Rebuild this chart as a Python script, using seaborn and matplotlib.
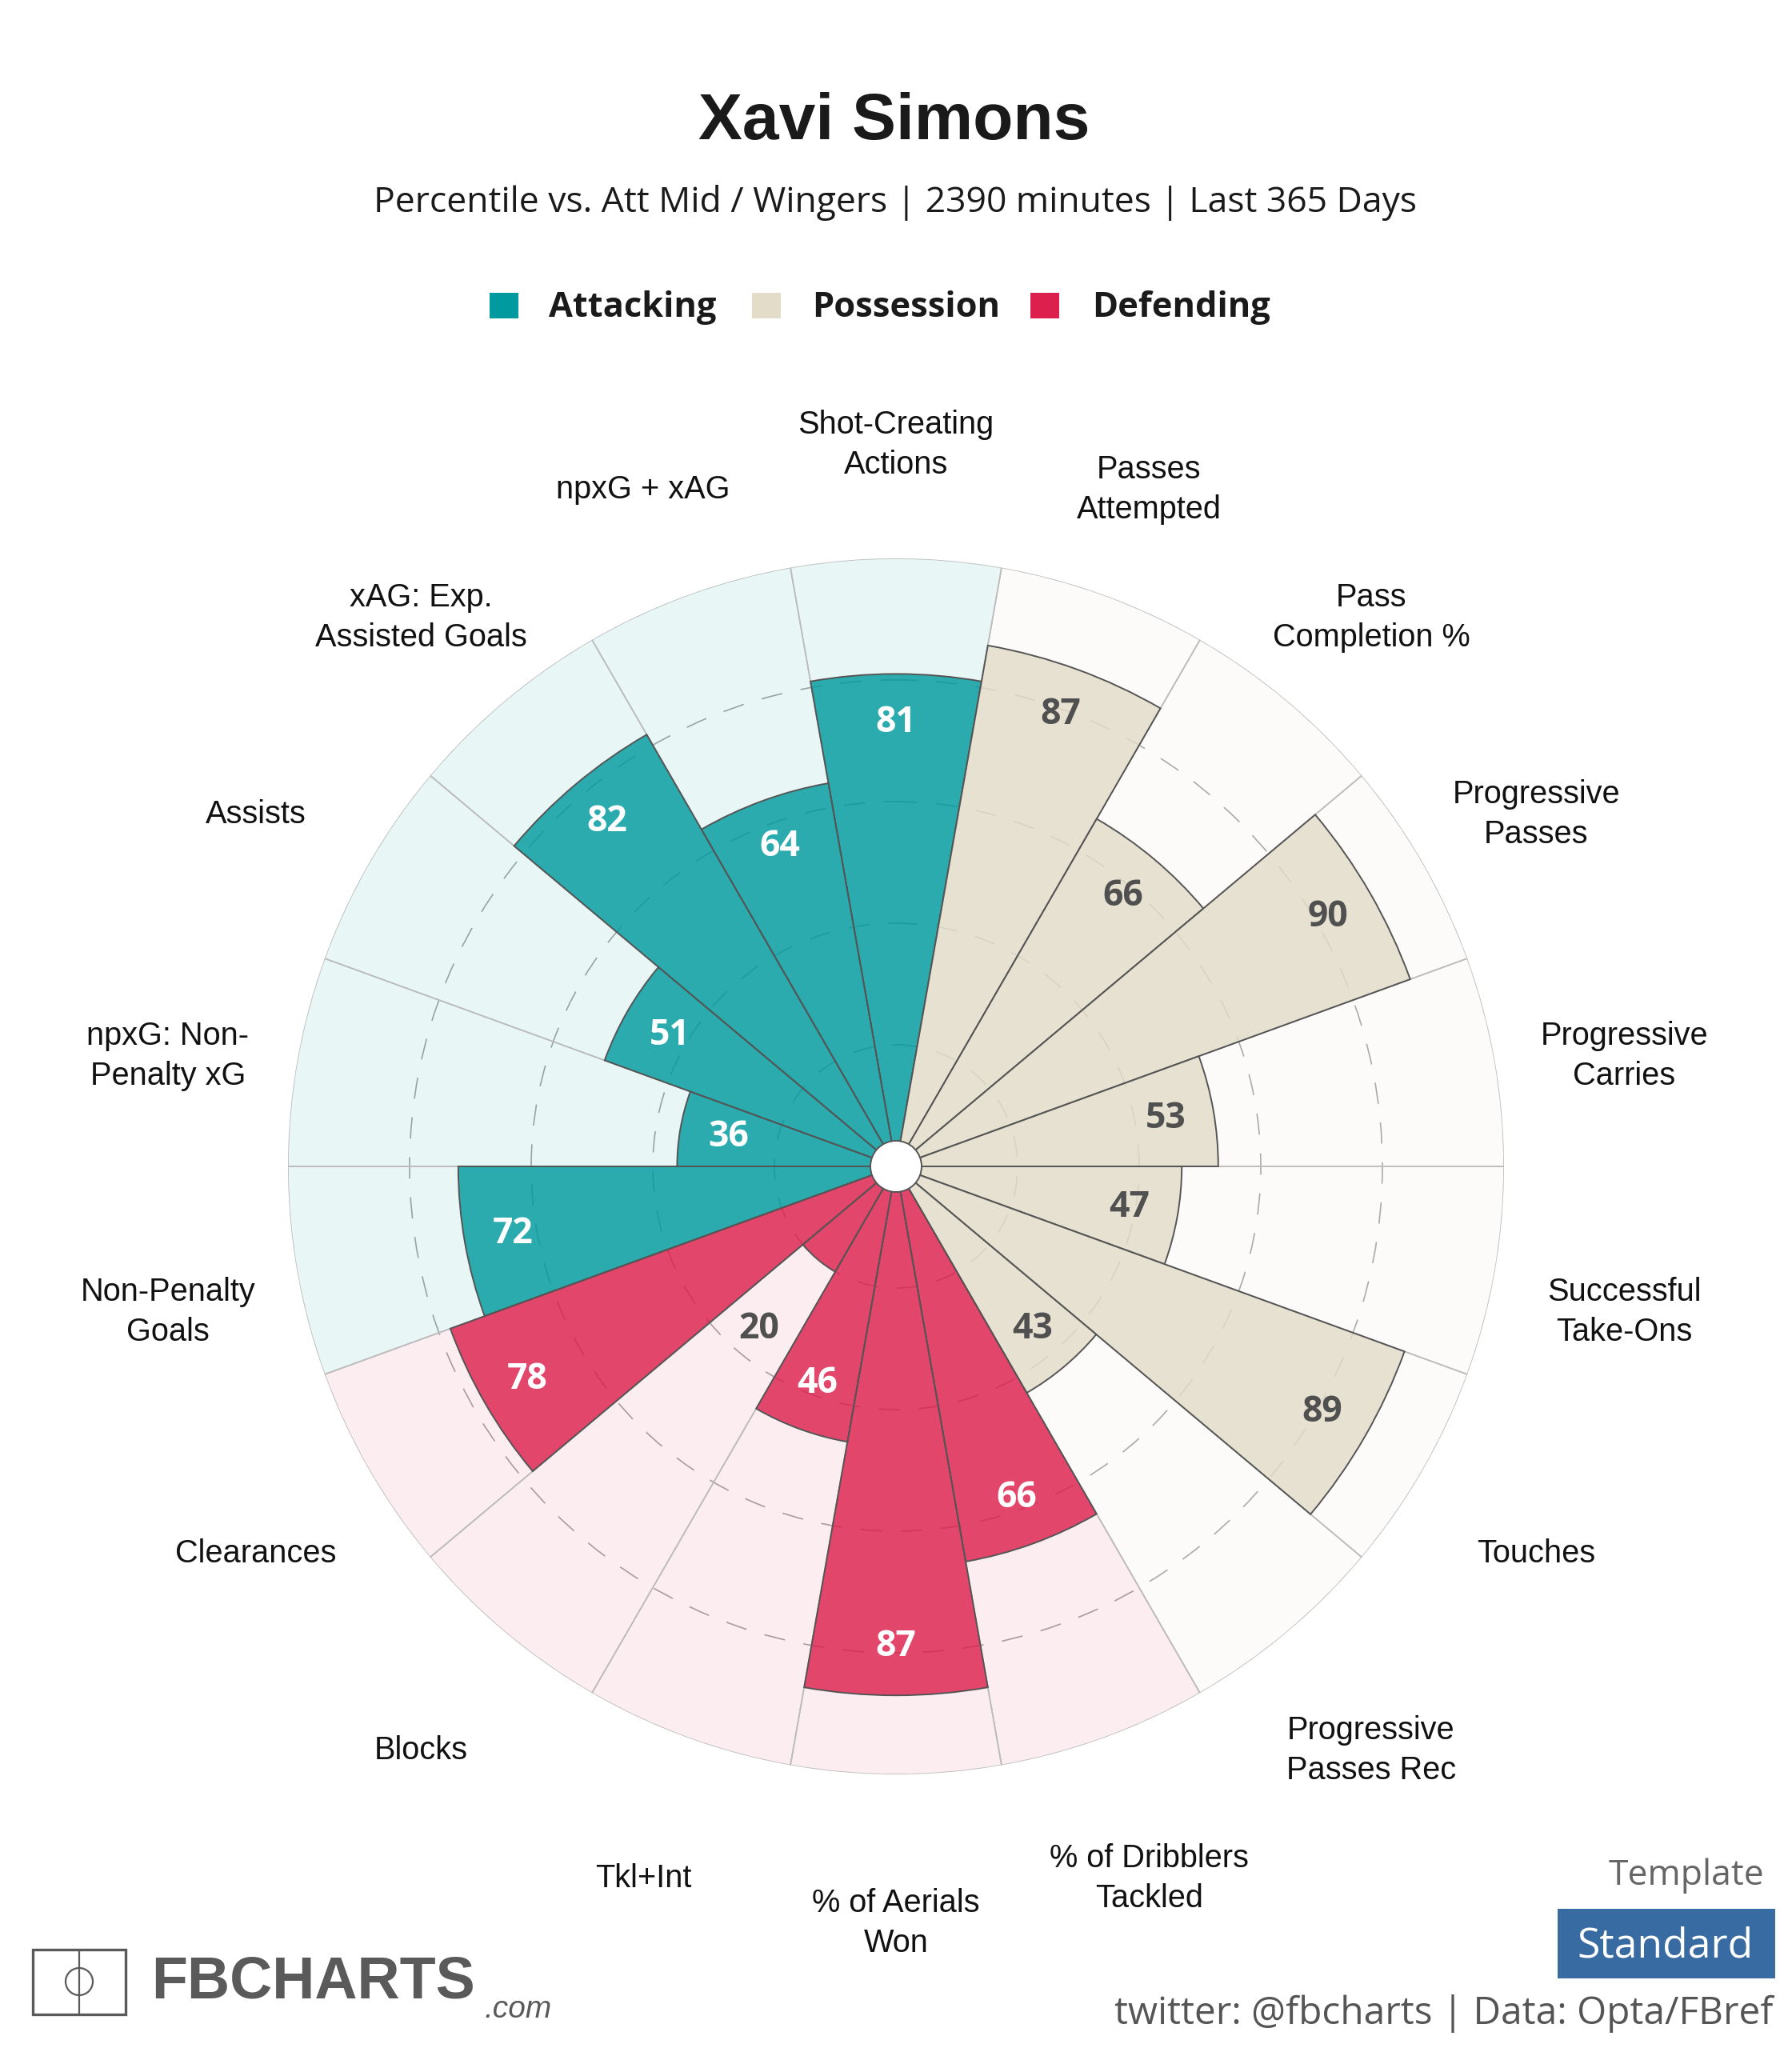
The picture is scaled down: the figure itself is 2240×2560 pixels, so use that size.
import numpy as np
import pandas as pd
import matplotlib
matplotlib.use("Agg")
import matplotlib.pyplot as plt
import matplotlib.transforms as mtrans
from matplotlib.colors import to_rgba
from matplotlib.patches import Circle, Rectangle
import seaborn as sns

# chart values, clockwise from the top
metrics = ["Shot-Creating\nActions", "Passes\nAttempted", "Pass\nCompletion %", "Progressive\nPasses",
           "Progressive\nCarries", "Successful\nTake-Ons", "Touches", "Progressive\nPasses Rec",
           "% of Dribblers\nTackled", "% of Aerials\nWon", "Tkl+Int", "Blocks", "Clearances",
           "Non-Penalty\nGoals", "npxG: Non-\nPenalty xG", "Assists", "xAG: Exp.\nAssisted Goals", "npxG + xAG"]
percentiles = [81, 87, 66, 90, 53, 47, 89, 43, 66, 87, 46, 20, 78, 72, 36, 51, 82, 64]
groups = ["Attacking", "Possession", "Possession", "Possession", "Possession", "Possession", "Possession",
          "Possession", "Defending", "Defending", "Defending", "Defending", "Defending",
          "Attacking", "Attacking", "Attacking", "Attacking", "Attacking"]
full_scale = [100] * 18
ring_values = [20, 40, 60, 80]
group_names = ["Attacking", "Possession", "Defending"]
group_colors = ["#009A9F", "#E3DCC8", "#DC1F4C"]
back_alpha = {"Attacking": 0.085, "Possession": 0.09, "Defending": 0.08}

player = "Xavi Simons"
subtitle = "Percentile vs. Att Mid / Wingers | 2390 minutes | Last 365 Days"
credit = "twitter: @fbcharts | Data: Opta/FBref"

sns.set_theme(style="white")
plt.rcParams["font.family"] = ["Liberation Sans", "DejaVu Sans"]

df = pd.DataFrame({"theta": np.deg2rad(np.arange(18) * 20.0), "metric": metrics, "value": percentiles,
                   "full": full_scale, "group": groups})
palette = dict(zip(group_names, group_colors))

fig = plt.figure(figsize=(11.2, 12.8), dpi=200, facecolor="white")
ax = fig.add_axes([360 / 2240, 342 / 2560, 1520 / 2240, 1520 / 2560], projection="polar")
ax.set_theta_zero_location("N")
ax.set_theta_direction(-1)

# pale full-height sectors behind the real bars
sns.barplot(data=df, x="theta", y="full", hue="group", hue_order=group_names, palette=palette, native_scale=True,
            dodge=False, width=1, saturation=1, errorbar=None, edgecolor="#BDBDBD", linewidth=0.6, legend=False, ax=ax)
n_back = len(ax.patches)
for p in ax.patches:
    for name, col in palette.items():
        if np.allclose(to_rgba(col), p.get_facecolor()):
            p.set_facecolor(to_rgba(col, back_alpha[name]))

sns.barplot(data=df, x="theta", y="value", hue="group", hue_order=group_names, palette=palette, native_scale=True,
            dodge=False, width=1, saturation=1, errorbar=None, edgecolor="#555555", linewidth=0.7, ax=ax)
for p in ax.patches[n_back:]:
    p.set_facecolor(to_rgba(p.get_facecolor(), 0.81))

ax.set_xlim(0, 2 * np.pi)
ax.set_ylim(0, 100)
ax.set_xticks([])
ax.set_yticks(ring_values)
ax.set_yticklabels([])
ax.tick_params(length=0)
ax.set_xlabel("")
ax.set_ylabel("")
ax.set_axisbelow(True)
ax.xaxis.grid(False)
ax.yaxis.grid(True, color="#A6A6A6", linewidth=0.6, linestyle=(0, (16, 14)))
ax.spines["polar"].set_visible(False)
ax.patch.set_alpha(0)

# white hole in the middle
ax.add_patch(Circle((0.5, 0.5), 32 / 1520, transform=ax.transAxes, facecolor="white", edgecolor="#555555",
                    linewidth=0.7, zorder=6))

# percentile numbers
for t, v, g in zip(df["theta"], df["value"], df["group"]):
    outside = v < 25
    ax.text(t, v + 15 if outside else v - 8, str(v), ha="center", va="center", fontsize=16, fontweight="bold",
            family=["Open Sans", "DejaVu Sans"], color="white" if g != "Possession" and not outside else "#505050",
            zorder=7)

# metric names around the circle
label_tr = mtrans.offset_copy(ax.transData, fig=fig, x=0, y=-22, units="dots")
for t, name in zip(df["theta"], df["metric"]):
    ax.text(t, 121.6, name, transform=label_tr, ha="center", va="center", fontsize=14.3, color="#111111",
            linespacing=1.4, clip_on=False)

ax.legend_.remove()

# header, legend and footer sit on an overlay in pixel coordinates
over = fig.add_axes([0, 0, 1, 1], zorder=10)
over.set_xlim(0, 2240)
over.set_ylim(2560, 0)
over.axis("off")

over.text(1118, 153, player, ha="center", va="center", fontsize=29.6, fontweight="bold", color="#1A1A1A")
over.text(1119, 253, subtitle, ha="center", va="center", fontsize=16, family=["Open Sans", "DejaVu Sans"],
          color="#1A1A1A")

legend_x = [(612, 686), (940, 1015), (1288, 1365)]
for (sq, tx), name, col in zip(legend_x, group_names, group_colors):
    over.add_patch(Rectangle((sq, 366), 36, 32, facecolor=col, edgecolor="none"))
    over.text(tx, 384, name, ha="left", va="center", fontsize=15.6, fontweight="bold",
              family=["Open Sans", "DejaVu Sans"], color="#1A1A1A")

# logo
over.add_patch(Rectangle((41, 2437), 116, 81, facecolor="none", edgecolor="#5A5A5A", linewidth=1.2))
over.plot([99, 99], [2437, 2518], color="#5A5A5A", linewidth=0.8)
over.add_patch(Circle((99, 2477), 17, facecolor="none", edgecolor="#5A5A5A", linewidth=0.8))
over.text(189, 2478, "FBCHARTS", ha="left", va="center", fontsize=26.5, fontweight="bold", color="#5A5A5A")
over.text(605, 2522, ".com", ha="left", va="baseline", fontsize=14, style="italic", color="#5A5A5A")

over.text(2205, 2345, "Template", ha="right", va="center", fontsize=16, family=["Open Sans", "DejaVu Sans"],
          color="#666666")
over.add_patch(Rectangle((1947, 2386), 272, 87, facecolor="#376BA2", edgecolor="none"))
over.text(2081, 2433, "Standard", ha="center", va="center", fontsize=18.6, family=["Open Sans", "DejaVu Sans"],
          color="white")
over.text(2216, 2517, credit, ha="right", va="center", fontsize=17.2, family=["Open Sans", "DejaVu Sans"],
          color="#555555")

fig.savefig("out.png", dpi=200, facecolor="white")
